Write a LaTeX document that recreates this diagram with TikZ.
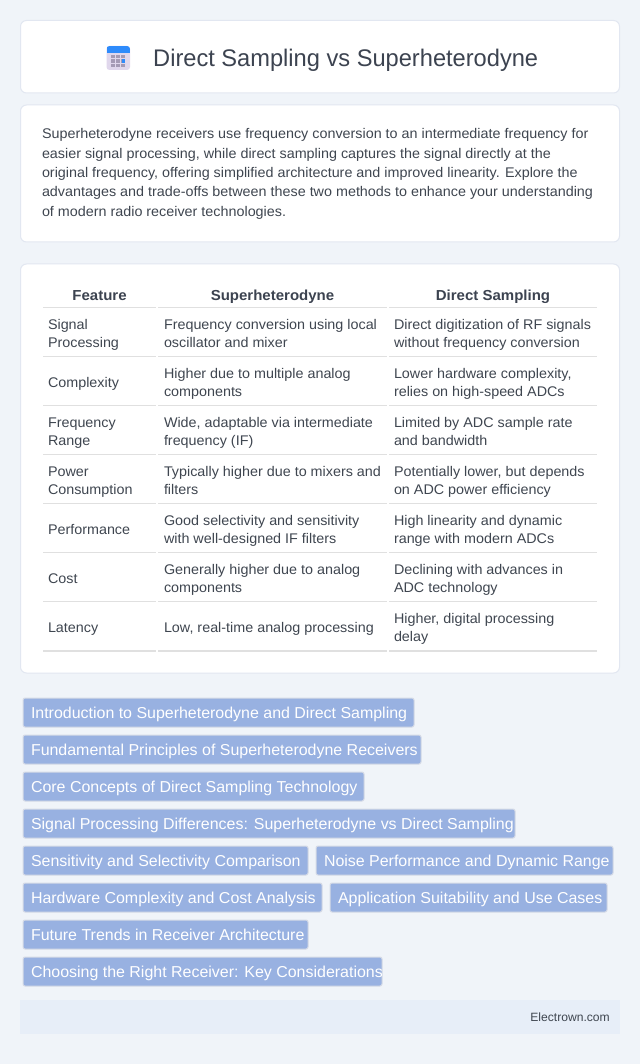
\documentclass[tikz,border=0pt]{standalone}
\usepackage{fontspec}
\setmainfont{Liberation Sans}[FakeStretch=0.985]
\newfontfamily\bodyfont{Liberation Sans}[FakeStretch=1.025]
\newfontfamily\tagfont{Liberation Sans}[FakeStretch=1.01]
\newfontfamily\headfont{Liberation Sans}[FakeStretch=1.035]
\definecolor{pagebg}{HTML}{F0F4F9}
\definecolor{cardline}{HTML}{E2E7F1}
\definecolor{inktitle}{HTML}{3C4350}
\definecolor{ink}{HTML}{3F4650}
\definecolor{rulec}{HTML}{E0E0E0}
\definecolor{tagfill}{HTML}{98B1E1}
\definecolor{tagline}{HTML}{D6DBE6}
\definecolor{footbg}{HTML}{E7EEF8}
\definecolor{calblue}{HTML}{2E8BFB}
\definecolor{calbody}{HTML}{E0D7EC}
\definecolor{caldot}{HTML}{A59BB5}
\tikzset{
  x=1pt,y=-1pt,
  card/.style={draw=cardline,line width=1pt,fill=white,rounded corners=6pt},
  body/.style={anchor=base west,inner sep=0pt,outer sep=0pt,text=ink,font=\bodyfont\fontsize{14}{14}\selectfont},
  head/.style={anchor=base,inner sep=0pt,outer sep=0pt,text=inktitle,font=\headfont\fontsize{14.5}{14.5}\selectfont\bfseries},
  tagbox/.style={draw=tagline,line width=1pt,fill=tagfill,rounded corners=2pt},
  taglabel/.style={anchor=base west,inner sep=0pt,outer sep=0pt,text=white,font=\tagfont\fontsize{15.8}{16}\selectfont},
  tablerule/.style={draw=rulec,line width=1.2pt},
}
\newcommand{\tagitem}[5]{% name x1 x2 y1 text
  \path[tagbox] (#2,#4) rectangle (#3,#4+29);
  \node[taglabel] (#1) at (#2+8,#4+20) {#5};
}
\begin{document}
\begin{tikzpicture}
\useasboundingbox (0,0) rectangle (640,1064);
\fill[pagebg] (0,0) rectangle (640,1064);
% cards
\path[card] (20.5,20.5) rectangle (619.5,93);
\path[card] (20.5,105) rectangle (619.5,242);
\path[card] (20.5,264) rectangle (619.5,673);
% icon
\fill[calbody,rounded corners=3pt] (106.5,46) rectangle (130,70);
\begin{scope}
\clip[rounded corners=3pt] (106.5,46) rectangle (130,70);
\fill[calblue] (106.5,46) rectangle (130,53);
\end{scope}
\foreach \cx in {113,118,123}{\foreach \cy in {56.5,61,65.5}{\fill[caldot] (\cx-1.6,\cy-1.6) rectangle (\cx+1.6,\cy+1.6);}}
\fill[calblue] (121.5,59.5) rectangle (125,62.8);
% title
\node[anchor=base west,inner sep=0pt,text=inktitle,font=\fontsize{24}{24}\selectfont] (title) at (153,67) {Direct Sampling vs Superheterodyne};
% intro
\node[body] (i1) at (42,139) {Superheterodyne receivers use frequency conversion to an intermediate frequency for};
\node[body] (i2) at (42,158.5) {easier signal processing, while direct sampling captures the signal directly at the};
\node[body] (i3) at (42,178) {original frequency, offering simplified architecture and improved linearity. Explore the};
\node[body] (i4) at (42,197) {advantages and trade-offs between these two methods to enhance your understanding};
\node[body] (i5) at (42,217) {of modern radio receiver technologies.};
% table head
\node[head] (h1) at (99.5,301) {Feature};
\node[head] (h2) at (272.5,301) {Superheterodyne};
\node[head] (h3) at (493,301) {Direct Sampling};
\foreach \yy in {307.5,356.5,405.5,454.5,503.5,552.5,601.5,651}{
  \draw[tablerule] (43,\yy) -- (156,\yy);
  \draw[tablerule] (158,\yy) -- (387,\yy);
  \draw[tablerule] (389,\yy) -- (597,\yy);
}
% rows
\node[body] (a1) at (48,329) {Signal};
\node[body] (a1b) at (48,347) {Processing};
\node[body] (b1) at (164,329) {Frequency conversion using local};
\node[body] (b1b) at (164,347) {oscillator and mixer};
\node[body] (c1) at (394,329) {Direct digitization of RF signals};
\node[body] (c1b) at (394,347) {without frequency conversion};
\node[body] (a2) at (48,387) {Complexity};
\node[body] (b2) at (164,378) {Higher due to multiple analog};
\node[body] (b2b) at (164,396) {components};
\node[body] (c2) at (394,378) {Lower hardware complexity,};
\node[body] (c2b) at (394,396) {relies on high-speed ADCs};
\node[body] (a3) at (48,427) {Frequency};
\node[body] (a3b) at (48,445) {Range};
\node[body] (b3) at (164,427) {Wide, adaptable via intermediate};
\node[body] (b3b) at (164,445) {frequency (IF)};
\node[body] (c3) at (394,427) {Limited by ADC sample rate};
\node[body] (c3b) at (394,445) {and bandwidth};
\node[body] (a4) at (48,476) {Power};
\node[body] (a4b) at (48,494) {Consumption};
\node[body] (b4) at (164,476) {Typically higher due to mixers and};
\node[body] (b4b) at (164,494) {filters};
\node[body] (c4) at (394,476) {Potentially lower, but depends};
\node[body] (c4b) at (394,494) {on ADC power efficiency};
\node[body] (a5) at (48,534) {Performance};
\node[body] (b5) at (164,525) {Good selectivity and sensitivity};
\node[body] (b5b) at (164,543) {with well-designed IF filters};
\node[body] (c5) at (394,525) {High linearity and dynamic};
\node[body] (c5b) at (394,543) {range with modern ADCs};
\node[body] (a6) at (48,583) {Cost};
\node[body] (b6) at (164,574) {Generally higher due to analog};
\node[body] (b6b) at (164,592) {components};
\node[body] (c6) at (394,574) {Declining with advances in};
\node[body] (c6b) at (394,592) {ADC technology};
\node[body] (a7) at (48,632) {Latency};
\node[body] (b7) at (164,632) {Low, real-time analog processing};
\node[body] (c7) at (394,623) {Higher, digital processing};
\node[body] (c7b) at (394,641) {delay};
% tags
\tagitem{t1}{23}{414}{698}{Introduction to Superheterodyne and Direct Sampling}
\tagitem{t2}{23}{421}{735}{Fundamental Principles of Superheterodyne Receivers}
\tagitem{t3}{23}{364}{772}{Core Concepts of Direct Sampling Technology}
\tagitem{t4}{23}{515}{809}{Signal Processing Differences: Superheterodyne vs Direct Sampling}
\tagitem{t5}{23}{308}{846}{Sensitivity and Selectivity Comparison}
\tagitem{t6}{316}{613}{846}{Noise Performance and Dynamic Range}
\tagitem{t7}{23}{322}{883}{Hardware Complexity and Cost Analysis}
\tagitem{t8}{330}{607}{883}{Application Suitability and Use Cases}
\tagitem{t9}{23}{308}{920}{Future Trends in Receiver Architecture}
\tagitem{t10}{23}{382}{957}{Choosing the Right Receiver: Key Considerations}
% footer
\fill[footbg] (20,1000) rectangle (620,1033.5);
\node[anchor=base east,inner sep=0pt,text=ink,font=\tagfont\fontsize{12}{12}\selectfont] (foot) at (610,1021) {Electrown.com};
\end{tikzpicture}
\end{document}
